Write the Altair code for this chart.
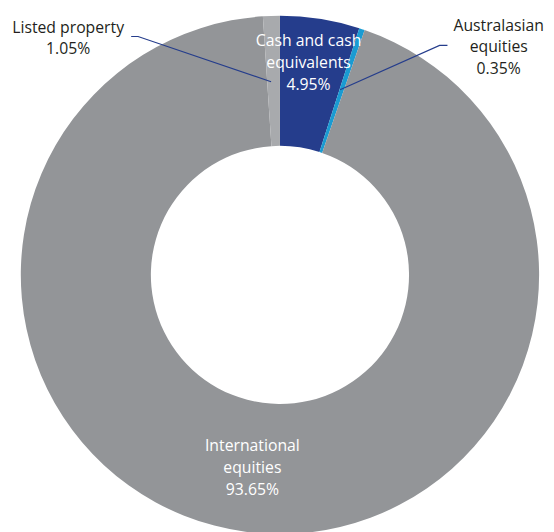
import altair as alt
import pandas as pd

categories = ["Cash and cash equivalents", "Australasian equities", "International equities", "Listed property"]
values = [4.95, 0.35, 93.65, 1.05]
colors = ["#253D8C", "#1A9BD2", "#939598", "#A8AAAD"]

label_lines = [
    ["Cash and cash", "equivalents", "4.95%"],
    ["Australasian", "equities", "0.35%"],
    ["International", "equities", "93.65%"],
    ["Listed property", "1.05%"],
]

# annotation layout (pixels inside the chart area)
label_anchor = [(305, 30), (498, 14), (248, 441), (61, 16)]
label_color = ["#FFFFFF", "#231F20", "#FFFFFF", "#231F20"]
line_h = 22

leaders = {
    "Listed property": [(125, 25), (132, 25), (267, 71)],
    "Australasian equities": [(446, 34), (438, 34), (337, 79)],
}

CX, CY = 276, 267

df = pd.DataFrame({"category": categories, "value": values, "order": list(range(len(categories)))})

arc = alt.Chart(df).mark_arc(outerRadius=263, innerRadius=131, strokeWidth=0).encode(
    theta=alt.Theta("value:Q", stack=True),
    order=alt.Order("order:Q"),
    color=alt.Color("category:N", scale=alt.Scale(domain=categories, range=colors), legend=None),
    x=alt.value(CX),
    y=alt.value(CY),
)

trows = []
for (ax, ay), lines, c in zip(label_anchor, label_lines, label_color):
    for i, t in enumerate(lines):
        trows.append({"x": ax, "y": ay + i * line_h, "t": t, "c": c})
tdf = pd.DataFrame(trows)

text = alt.Chart(tdf).mark_text(font="Open Sans", fontSize=16, baseline="middle", align="center").encode(
    x=alt.X("x:Q", scale=None, axis=None),
    y=alt.Y("y:Q", scale=None, axis=None),
    text="t:N",
    color=alt.Color("c:N", scale=None),
)

lrows = []
for k, pts in leaders.items():
    for i, (px, py) in enumerate(pts):
        lrows.append({"k": k, "i": i, "x": px, "y": py})
ldf = pd.DataFrame(lrows)

lines = alt.Chart(ldf).mark_line(color="#253D8C", strokeWidth=1.2).encode(
    x=alt.X("x:Q", scale=None, axis=None),
    y=alt.Y("y:Q", scale=None, axis=None),
    detail="k:N",
    order="i:Q",
)

chart = alt.layer(arc, lines, text).properties(
    width=546, height=524, autosize=alt.AutoSizeParams(type="none"), padding=0
).configure_view(stroke=None)

chart.save("out.html", embed_options={"renderer": "svg", "actions": False})
